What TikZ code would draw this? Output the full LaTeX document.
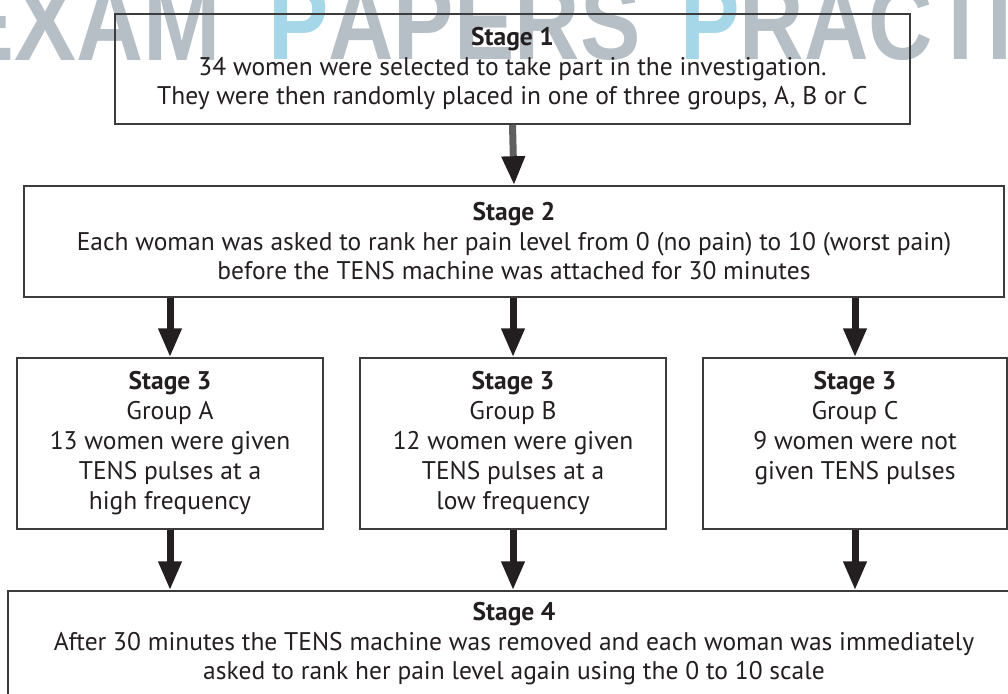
\documentclass[tikz,border=0pt]{standalone}
\usepackage{fontspec}
\setmainfont{PT Sans}
\newfontfamily\wmfont{Liberation Sans}
\usetikzlibrary{arrows.meta}
\definecolor{ink}{RGB}{35,31,32}
\definecolor{frame}{RGB}{60,60,60}
\definecolor{wmgray}{RGB}{182,190,198}
\definecolor{wmblue}{RGB}{165,215,232}
\definecolor{stemgray}{RGB}{95,95,95}
\begin{document}
\begin{tikzpicture}[x=1pt,y=-1pt,
  box/.style={draw=frame,line width=1.5pt,inner sep=0pt,align=center,text=ink,font=\fontsize{25.5}{29.5}\selectfont},
  groupbox/.style={box,font=\fontsize{25.5}{30}\selectfont,minimum height=171pt},
  flow/.style={draw=ink,line width=7pt,-{Triangle[width=22pt,length=29pt,color=ink]}},
  wm/.style={inner sep=0pt,anchor=base west,font=\wmfont\bfseries}]
\useasboundingbox (0,0) rectangle (1008,693);
\clip (0,0) rectangle (1008,693);
% watermark
\node[wm] (wm1) at (-48,60) {\resizebox{268pt}{75pt}{\color{wmgray}EXAM}};
\node[wm] (wm2) at (268,60) {\resizebox{372pt}{75pt}{\color{wmblue}P\color{wmgray}APERS}};
\node[wm] (wm3) at (680,60) {\resizebox{456pt}{75pt}{\color{wmblue}P\color{wmgray}RACTICE}};
% boxes
\node[box, minimum width=795pt, minimum height=110pt] (s1) at (512.5,69)
  {\textbf{Stage 1}\\34 women were selected to take part in the investigation.\\They were then randomly placed in one of three groups, A, B or C};
\node[box, minimum width=980pt, minimum height=111pt] (s2) at (514,241.5)
  {\textbf{Stage 2}\\Each woman was asked to rank her pain level from 0 (no pain) to 10 (worst pain)\\before the TENS machine was attached for 30 minutes};
\node[groupbox, minimum width=306pt] (s3a) at (170,443.5)
  {\textbf{Stage 3}\\Group A\\13 women were given\\TENS pulses at a\\high frequency};
\node[groupbox, minimum width=306pt] (s3b) at (513,443.5)
  {\textbf{Stage 3}\\Group B\\12 women were given\\TENS pulses at a\\low frequency};
\node[groupbox, minimum width=304pt] (s3c) at (855,443.5)
  {\textbf{Stage 3}\\Group C\\9 women were not\\given TENS pulses\\\phantom{hy}};
\node[box, minimum width=1012pt, minimum height=106pt] (s4) at (514,644)
  {\textbf{Stage 4}\\After 30 minutes the TENS machine was removed and each woman was immediately\\asked to rank her pain level again using the 0 to 10 scale};
% connectors
\draw[flow, draw=stemgray] (s1.south) -- (s2.north);
\draw[flow] (s2.south -| s3a.north) -- (s3a.north);
\draw[flow] (s2.south -| s3b.north) -- (s3b.north);
\draw[flow] (s2.south -| s3c.north) -- (s3c.north);
\draw[flow] (s3a.south) -- (s4.north -| s3a.south);
\draw[flow] (s3b.south) -- (s4.north -| s3b.south);
\draw[flow] (s3c.south) -- (s4.north -| s3c.south);
\end{tikzpicture}
\end{document}
